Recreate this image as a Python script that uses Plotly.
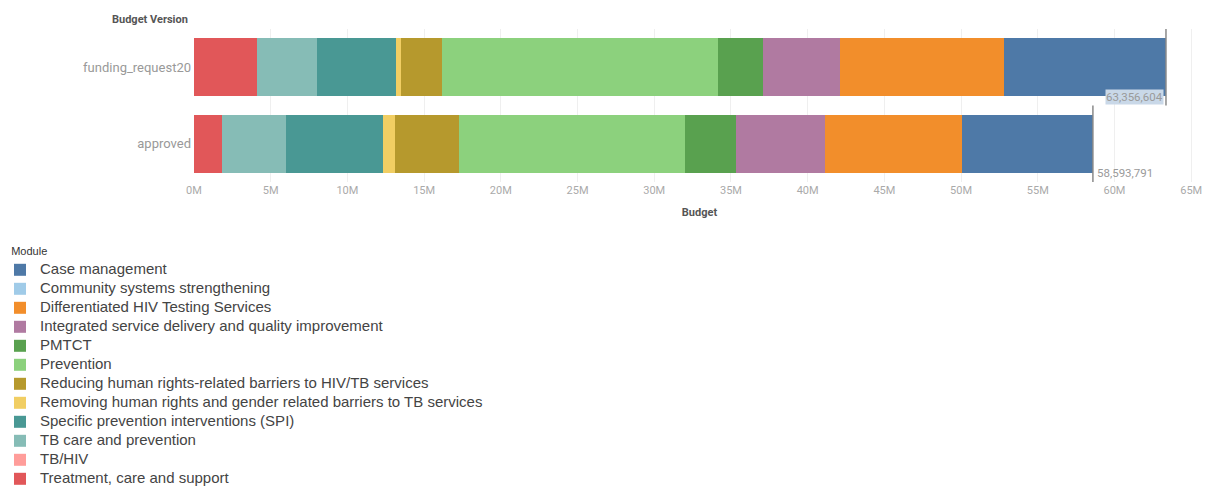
import plotly.graph_objects as go

# ---------------- data ----------------
versions = ["funding_request20", "approved"]
version_order = ["approved", "funding_request20"]  # bottom -> top

modules = [
    "Case management",
    "Community systems strengthening",
    "Differentiated HIV Testing Services",
    "Integrated service delivery and quality improvement",
    "PMTCT",
    "Prevention",
    "Reducing human rights-related barriers to HIV/TB services",
    "Removing human rights and gender related barriers to TB services",
    "Specific prevention interventions (SPI)",
    "TB care and prevention",
    "TB/HIV",
    "Treatment, care and support",
]
module_colors = [
    "#4e79a7", "#a0cbe8", "#f28e2b", "#b07aa1", "#59a14f", "#8cd17d",
    "#b6992d", "#f1ce63", "#499894", "#86bcb6", "#ff9d9a", "#e15759",
]
funding_request20 = [10590000, 0, 10680000, 5000000, 2930000, 18006604,
                     2650000, 330000, 5170000, 3910000, 0, 4090000]
approved = [8540000, 0, 8910000, 5820000, 3300000, 14733791,
            4190000, 800000, 6300000, 4150000, 0, 1850000]

tick_values = [0, 5e6, 10e6, 15e6, 20e6, 25e6, 30e6, 35e6, 40e6, 45e6, 50e6, 55e6, 60e6, 65e6]
tick_labels = ["0M", "5M", "10M", "15M", "20M", "25M", "30M", "35M", "40M", "45M",
               "50M", "55M", "60M", "65M"]

series = {"funding_request20": funding_request20, "approved": approved}

# ---------------- figure ----------------
fig = go.Figure()
for i in reversed(range(len(modules))):
    fig.add_trace(go.Bar(
        y=versions,
        x=[series[v][i] for v in versions],
        orientation="h",
        name='<span style="font-size:15px">' + modules[i] + "</span>",
        marker=dict(color=module_colors[i], line=dict(width=0)),
    ))

totals = {v: sum(series[v]) for v in versions}
for v in versions:
    idx = version_order.index(v)
    t = totals[v]
    fig.add_shape(type="line", xref="x", yref="y", x0=t, x1=t,
                  y0=idx - 0.5, y1=idx + 0.5,
                  line=dict(color="#8a8a8a", width=1.5), layer="above")
    top = (v == "funding_request20")
    fig.add_annotation(
        x=t, y=idx - 0.5, xref="x", yref="y",
        text=f"{t:,.0f}", showarrow=False,
        xanchor="right" if top else "left", yanchor="bottom",
        xshift=-2 if top else 3, yshift=1,
        bgcolor="#c9d8e8" if top else "rgba(0,0,0,0)",
        borderpad=0,
        font=dict(family="Roboto, Arial", size=11.5, color="#9a9a9a"),
    )

fig.add_annotation(
    text="<b>Budget Version</b>", xref="paper", yref="paper", x=0, y=1,
    xanchor="right", yanchor="bottom", xshift=-4, yshift=1, showarrow=False,
    font=dict(family="Roboto, Arial", size=11, color="#555555"),
)

fig.update_layout(
    width=1208, height=486,
    barmode="stack", bargap=0.237,
    plot_bgcolor="white", paper_bgcolor="white",
    margin=dict(l=194, r=3, t=29, b=304, autoexpand=False),
    font=dict(family="Arial, Liberation Sans", color="#444444"),
    xaxis=dict(
        range=[0, 65.9e6], tickvals=tick_values, ticktext=tick_labels,
        showgrid=True, gridcolor="#efefef", gridwidth=1, zeroline=False,
        showline=False, ticks="",
        tickfont=dict(family="Roboto, Arial", size=11, color="#aaaaaa"),
        title=dict(text="<b>Budget</b>", standoff=12,
                   font=dict(family="Roboto, Arial", size=11, color="#555555")),
    ),
    yaxis=dict(
        categoryorder="array", categoryarray=version_order, range=[-0.5, 1.5],
        showgrid=False, zeroline=False, showline=False, ticks="",
        ticklabelstandoff=2,
        tickfont=dict(family="Roboto, Arial", size=13, color="#999999"),
    ),
    legend=dict(
        xref="container", yref="container", x=0, y=1 - 241 / 486,
        xanchor="left", yanchor="top", traceorder="reversed",
        font=dict(family="Arial, Liberation Sans", size=12, color="#444444"),
        title=dict(text="&nbsp;&nbsp;&nbsp;Module",
                   font=dict(family="Arial, Liberation Sans", size=11, color="#333333")),
        bgcolor="rgba(0,0,0,0)", borderwidth=0, itemwidth=30, tracegroupgap=0,
        maxheight=1000,
    ),
)

fig.write_html("out.html")
